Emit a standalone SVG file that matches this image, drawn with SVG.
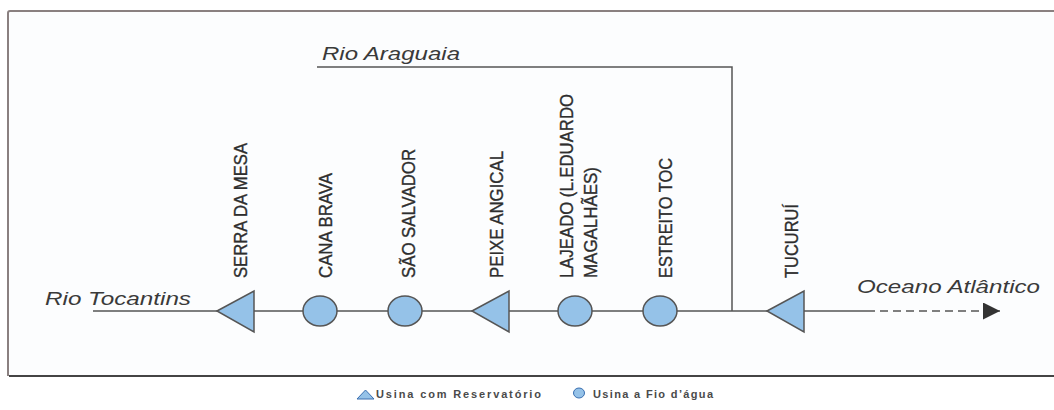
<svg xmlns="http://www.w3.org/2000/svg" width="1054" height="410" viewBox="0 0 1054 410">
<defs>
<style>
.river{font-family:"Liberation Sans",Arial,sans-serif;font-style:italic;font-size:19px;fill:#3a3a3a}
.lbl{font-family:"Liberation Sans Narrow","Liberation Sans",Arial,sans-serif;font-size:18px;fill:#2e2e2e;stroke:#2e2e2e;stroke-width:0.35}
.leg{font-family:"Liberation Sans",Arial,sans-serif;font-size:11px;font-weight:bold;fill:#4a4a4a}
.ln{stroke:#555;stroke-width:1.5;fill:none}
.res{fill:#95c2e8;stroke:#555;stroke-width:1.5}
</style>
<marker id="arr" viewBox="0 0 10 10" refX="10" refY="5" markerWidth="17" markerHeight="17" markerUnits="userSpaceOnUse" orient="auto">
<path d="M0,0 L10,5 L0,10 Z" fill="#333"/>
</marker>
</defs>
<rect x="0" y="0" width="1054" height="410" fill="#ffffff"/>
<g id="frame">
<rect x="8" y="11" width="1060" height="365" rx="2" fill="#fcfdfe" stroke="none"/>
<path d="M8,376 L8,13 Q8,11 10,11 L1054,11" fill="none" stroke="#8a8080" stroke-width="2"/>
<path d="M9,376 L1054,376" fill="none" stroke="#444" stroke-width="2"/>
</g>
<g id="connectors">
<line class="ln" x1="93" y1="311" x2="867" y2="311"/>
<line class="ln" x1="867" y1="311" x2="1000" y2="311" stroke-dasharray="8,5" marker-end="url(#arr)"/>
<polyline class="ln" points="317,67 732,67 732,311" stroke="#7a7070"/>
</g>
<g id="rio-tocantins"><text class="river" x="45" y="305" textLength="146" lengthAdjust="spacingAndGlyphs">Rio Tocantins</text></g>
<g id="rio-araguaia"><text class="river" x="322" y="60" textLength="138" lengthAdjust="spacingAndGlyphs">Rio Araguaia</text></g>
<g id="oceano"><text class="river" x="857" y="293" textLength="183" lengthAdjust="spacingAndGlyphs">Oceano Atlântico</text></g>
<g id="serra-da-mesa">
<polygon class="res" points="217,311 254,291 254,332"/>
<text class="lbl" transform="translate(247,278) rotate(-90)" textLength="135" lengthAdjust="spacingAndGlyphs">SERRA DA MESA</text>
</g>
<g id="cana-brava">
<ellipse class="res" cx="320" cy="311" rx="17" ry="15"/>
<text class="lbl" transform="translate(332,278) rotate(-90)" textLength="105" lengthAdjust="spacingAndGlyphs">CANA BRAVA</text>
</g>
<g id="sao-salvador">
<ellipse class="res" cx="405" cy="311" rx="17" ry="15"/>
<text class="lbl" transform="translate(415,278) rotate(-90)" textLength="129" lengthAdjust="spacingAndGlyphs">SÃO SALVADOR</text>
</g>
<g id="peixe-angical">
<polygon class="res" points="472,311 509,291 509,332"/>
<text class="lbl" transform="translate(503,278) rotate(-90)" textLength="127" lengthAdjust="spacingAndGlyphs">PEIXE ANGICAL</text>
</g>
<g id="lajeado">
<ellipse class="res" cx="575" cy="311" rx="17" ry="15"/>
<text class="lbl" transform="translate(573,278) rotate(-90)" textLength="184" lengthAdjust="spacingAndGlyphs">LAJEADO (L.EDUARDO</text>
<text class="lbl" transform="translate(597,278) rotate(-90)" textLength="111" lengthAdjust="spacingAndGlyphs">MAGALHÃES)</text>
</g>
<g id="estreito-toc">
<ellipse class="res" cx="660" cy="311" rx="17" ry="15"/>
<text class="lbl" transform="translate(672,278) rotate(-90)" textLength="120" lengthAdjust="spacingAndGlyphs">ESTREITO TOC</text>
</g>
<g id="tucurui">
<polygon class="res" points="767,311 804,291 804,332"/>
<text class="lbl" transform="translate(798,278) rotate(-90)" textLength="74" lengthAdjust="spacingAndGlyphs">TUCURUÍ</text>
</g>
<g id="legend">
<polygon points="357,399 365.5,390 374,399" fill="#95c2e8" stroke="#3a6fb0" stroke-width="1"/>
<text class="leg" x="376" y="398" textLength="165" lengthAdjust="spacing">Usina com Reservatório</text>
<ellipse cx="579" cy="393" rx="5.5" ry="5" fill="#95c2e8" stroke="#3a6fb0" stroke-width="1"/>
<text class="leg" x="593" y="398" textLength="120" lengthAdjust="spacing">Usina a Fio d’água</text>
</g>
</svg>
